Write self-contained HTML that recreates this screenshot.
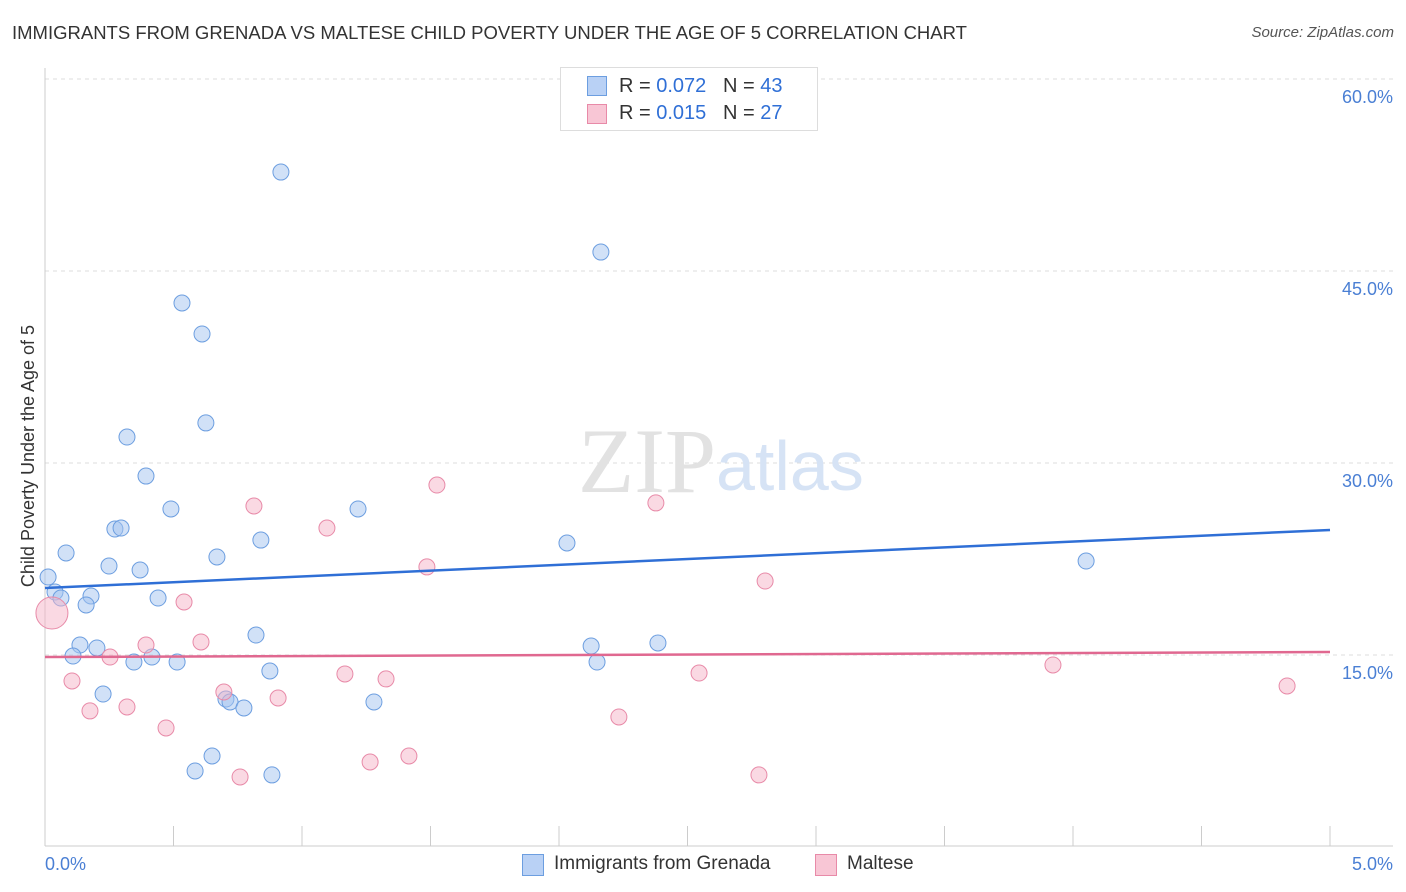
<!DOCTYPE html>
<html><head><meta charset="utf-8"><style>
body{margin:0;background:#fff;font-family:"Liberation Sans",sans-serif;}
#c{position:relative;width:1406px;height:892px;overflow:hidden}
.t{position:absolute;white-space:nowrap}
</style></head><body>
<div id="c">
<div class="t" style="left:12px;top:22px;font-size:18.5px;color:#333">IMMIGRANTS FROM GRENADA VS MALTESE CHILD POVERTY UNDER THE AGE OF 5 CORRELATION CHART</div>
<div class="t" style="right:12px;top:24px;font-size:15px;color:#555;font-style:italic">Source: ZipAtlas.com</div>
<svg id="s" width="1406" height="892" style="position:absolute;left:0;top:0"></svg>
</div>
<script>
const yTicks=[15,30,45,60];
const xTickLabels=["0.0%","5.0%"];
const blueX=[0.918,2.163,0.533,0.611,0.626,0.319,0.393,0.490,1.218,0.272,0.296,0.840,2.031,0.082,0.669,0.249,0.370,0.012,4.051,0.039,0.062,0.179,0.440,0.160,0.821,0.136,0.202,2.125,2.385,0.109,0.416,0.346,0.514,2.148,0.875,0.226,0.704,0.720,0.774,1.280,0.650,0.584,0.883];
const blueY=[52.73,46.48,42.5,40.08,33.13,32.03,28.98,26.41,26.41,24.84,24.92,23.98,23.75,22.97,22.66,21.95,21.64,21.09,22.34,19.92,19.45,19.61,19.45,18.91,16.56,15.78,15.55,15.70,15.94,14.92,14.84,14.45,14.45,14.45,13.75,11.95,11.56,11.33,10.86,11.33,7.11,5.94,5.63];
const pinkX=[0.027,1.525,0.813,2.377,1.097,1.486,2.802,0.541,0.393,0.607,0.253,0.105,1.167,1.327,2.545,3.922,4.833,0.696,0.907,0.319,0.175,2.233,0.471,1.416,1.265,0.759,2.778];
const pinkY=[18.28,28.28,26.64,26.88,24.92,21.88,20.78,19.14,15.78,16.02,14.84,12.97,13.52,13.13,13.59,14.22,12.58,12.11,11.64,10.94,10.63,10.16,9.30,7.11,6.64,5.47,5.63];
const blueTrend=[20.23,24.77];
const pinkTrend=[14.84,15.23];
const X=v=>45+v/5*1285, Y=v=>847-v/15*192;
const s=document.getElementById('s');const NS='http://www.w3.org/2000/svg';
function el(t,a,n){const e=document.createElementNS(NS,t);for(const k in a)e.setAttribute(k,a[k]);


s.appendChild(e);return e;}
yTicks.forEach(v=>{el('line',{x1:45,x2:1393,y1:Y(v),y2:Y(v),stroke:'#ddd','stroke-dasharray':'4,4'},'gridline');
const t=el('text',{x:1393,y:Y(v)+24,'text-anchor':'end','font-size':18,fill:'#4a7fd4'},'y-tick-label');t.textContent=v.toFixed(1)+'%';});
el('line',{x1:45,x2:45,y1:68,y2:846,stroke:'#ccc'},'y-axis');
el('line',{x1:45,x2:1393,y1:846,y2:846,stroke:'#ccc'},'x-axis');
for(let i=0;i<=10;i++)el('line',{x1:X(i/2),x2:X(i/2),y1:826,y2:846,stroke:'#ccc'},'x-tick');
let t=el('text',{x:45,y:870,'font-size':18,fill:'#4a7fd4'},'x-tick-label');t.textContent=xTickLabels[0];
t=el('text',{x:1393,y:870,'text-anchor':'end','font-size':18,fill:'#4a7fd4'},'x-tick-label');t.textContent=xTickLabels[1];
t=el('text',{x:0,y:0,transform:'translate(34,456) rotate(-90)','text-anchor':'middle','font-size':18,fill:'#333'},'y-axis-title');t.textContent='Child Poverty Under the Age of 5';
t=el('text',{x:716,y:492,'text-anchor':'end','font-size':92,fill:'#e2e2e2','font-family':'Liberation Serif'},'watermark-zip');t.textContent='ZIP';
t=el('text',{x:716,y:490,'font-size':70,fill:'#d6e3f5'},'watermark-atlas');t.textContent='atlas';
blueX.forEach((x,i)=>el('circle',{cx:X(x),cy:Y(blueY[i]),r:8,fill:'rgba(164,196,240,0.5)',stroke:'#6c9ee0','stroke-width':1},'blue-point'));
pinkX.forEach((x,i)=>el('circle',{cx:X(x),cy:Y(pinkY[i]),r:i==0?16:8,fill:'rgba(246,180,200,0.5)',stroke:'#e88aa8','stroke-width':1},'pink-point'));
el('line',{x1:X(0),x2:X(5),y1:Y(blueTrend[0]),y2:Y(blueTrend[1]),stroke:'#2f6fd6','stroke-width':2.5},'blue-trend-line');
el('line',{x1:X(0),x2:X(5),y1:Y(pinkTrend[0]),y2:Y(pinkTrend[1]),stroke:'#e06890','stroke-width':2.5},'pink-trend-line');
</script>
<div class="t" style="left:560px;top:67px;width:256px;height:62px;border:1px solid #ddd;background:#fff;font-size:20px;color:#333">
<div style="position:absolute;left:26px;top:8px;width:18px;height:18px;background:#b9d1f5;border:1px solid #6c9ee0"></div>
<div class="t" style="left:58px;top:7px">R = <span style="color:#2f6fd6">0.072</span>&nbsp;&nbsp;&nbsp;N = <span style="color:#2f6fd6">43</span></div>
<div style="position:absolute;left:26px;top:36px;width:18px;height:18px;background:#f8c6d5;border:1px solid #e88aa8"></div>
<div class="t" style="left:58px;top:34px">R = <span style="color:#2f6fd6">0.015</span>&nbsp;&nbsp;&nbsp;N = <span style="color:#2f6fd6">27</span></div>
</div>
<div>
<div style="position:absolute;left:522px;top:854px;width:20px;height:20px;background:#b9d1f5;border:1px solid #6c9ee0"></div>
<div class="t" style="left:554px;top:853px;font-size:19px;color:#333">Immigrants from Grenada</div>
<div style="position:absolute;left:815px;top:854px;width:20px;height:20px;background:#f8c6d5;border:1px solid #e88aa8"></div>
<div class="t" style="left:847px;top:853px;font-size:19px;color:#333">Maltese</div>
</div>
</body></html>
